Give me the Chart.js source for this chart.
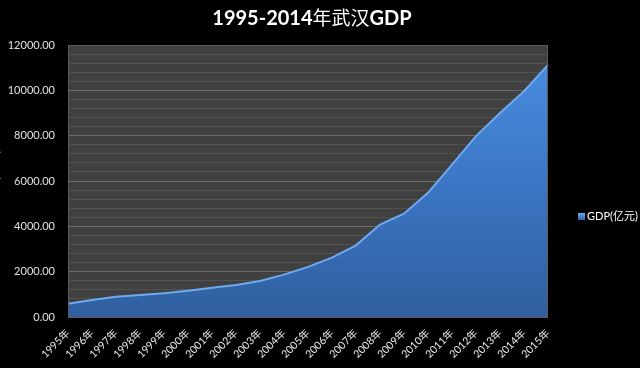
<!DOCTYPE html>
<html>
<head>
<meta charset="utf-8">
<script src="https://cdn.jsdelivr.net/npm/chart.js@4"></script>
<style>
  html, body { margin: 0; padding: 0; background: #000; }
  #wrap { width: 640px; height: 368px; position: relative; }
</style>
</head>
<body>
<div id="wrap"><canvas id="grafico"></canvas></div>
<script>
// dados
const anos = ["1995年", "1996年", "1997年", "1998年", "1999年", "2000年", "2001年", "2002年", "2003年", "2004年",
  "2005年", "2006年", "2007年", "2008年", "2009年", "2010年", "2011年", "2012年", "2013年", "2014年", "2015年"];
const gdp = [580, 750, 890, 970, 1050, 1160, 1290, 1410, 1590, 1870,
  2210, 2620, 3160, 4080, 4560, 5480, 6720, 7980, 9000, 9960, 11120];
const serieNome = "GDP(亿元)";
// titulo em partes: latim em negrito, chines normal
const tituloPartes = [["1995-2014", true], ["年武汉", false], ["GDP", true]];

const fonte = "Lato, 'Noto Sans CJK SC', sans-serif";

// fundo da area do grafico + titulo + legenda + titulo do eixo
const pluginFundo = {
  id: "fundo",
  beforeDraw(chart) {
    const { ctx, chartArea: a } = chart;
    ctx.save();
    ctx.fillStyle = "#000";
    ctx.fillRect(0, 0, chart.width, chart.height);
    ctx.fillStyle = "#404040";
    ctx.fillRect(a.left, a.top, a.right - a.left, a.bottom - a.top);
    ctx.restore();
  },
  afterDraw(chart) {
    const { ctx, chartArea: a } = chart;
    ctx.save();
    ctx.strokeStyle = "#5c5c5c";
    ctx.lineWidth = 1;
    ctx.strokeRect(a.left + 0.5, a.top + 0.5, a.right - a.left - 1, a.bottom - a.top);

    // titulo
    ctx.fillStyle = "#fff";
    ctx.textBaseline = "middle";
    const fontes = tituloPartes.map(p => (p[1] ? "bold 20px " : "19px ") + fonte);
    let total = 0;
    tituloPartes.forEach((p, i) => { ctx.font = fontes[i]; total += ctx.measureText(p[0]).width; });
    let x = 312 - total / 2;
    tituloPartes.forEach((p, i) => {
      ctx.font = fontes[i];
      ctx.fillText(p[0], x, 19);
      x += ctx.measureText(p[0]).width;
    });

    // legenda
    const g = ctx.createLinearGradient(0, 213, 0, 220);
    g.addColorStop(0, "#6aa6ee");
    g.addColorStop(1, "#2f62a6");
    ctx.fillStyle = g;
    ctx.fillRect(578, 213, 7, 7);
    ctx.fillStyle = "#fff";
    ctx.font = "11px " + fonte;
    ctx.fillText(serieNome, 587, 216.5);

    // titulo do eixo y (cortado na borda)
    ctx.translate(-5, 178);
    ctx.rotate(-Math.PI / 2);
    ctx.fillStyle = "#c8862e";
    ctx.font = "bold 12px " + fonte;
    ctx.textAlign = "center";
    ctx.fillText(serieNome, 0, 0);
    ctx.restore();
  }
};

function gradienteArea(context) {
  const a = context.chart.chartArea;
  if (!a) return "#3a74c0";
  const g = context.chart.ctx.createLinearGradient(0, a.top, 0, a.bottom);
  g.addColorStop(0, "#4a8fe3");
  g.addColorStop(0.5, "#3c76c4");
  g.addColorStop(1, "#2f5f9f");
  return g;
}

const ctx = document.getElementById("grafico").getContext("2d");
new Chart(ctx, {
  type: "line",
  data: {
    labels: anos,
    datasets: [{
      label: serieNome,
      data: gdp,
      fill: "origin",
      backgroundColor: gradienteArea,
      borderColor: "#6eaaf0",
      borderWidth: 2,
      pointRadius: 0,
      tension: 0
    }]
  },
  plugins: [pluginFundo],
  options: {
    responsive: true,
    maintainAspectRatio: false,
    animation: false,
    layout: { padding: { left: 0, right: 92, top: 45, bottom: 0 } },
    plugins: {
      legend: { display: false },
      tooltip: { enabled: false },
      title: { display: false }
    },
    scales: {
      x: {
        offset: false,
        grid: { display: false },
        border: { display: false },
        ticks: {
          color: "#ececec",
          font: { family: fonte, size: 10.5 },
          minRotation: 45,
          maxRotation: 45,
          padding: 2,
          autoSkip: false
        },
        afterFit(s) { s.height = 51; }
      },
      y: {
        min: 0,
        max: 12000,
        grid: {
          color: c => (c.tick && c.tick.value % 2000 === 0) ? "#6a6a6a" : "#525252",
          lineWidth: 1,
          drawTicks: false
        },
        border: { display: false },
        ticks: {
          stepSize: 400,
          autoSkip: false,
          color: "#e0e0e0",
          font: { family: fonte, size: 11 },
          padding: 13,
          callback: v => v % 2000 === 0 ? v.toFixed(2) : ""
        },
        afterFit(s) { s.width = 68; }
      }
    }
  }
});
</script>
</body>
</html>
